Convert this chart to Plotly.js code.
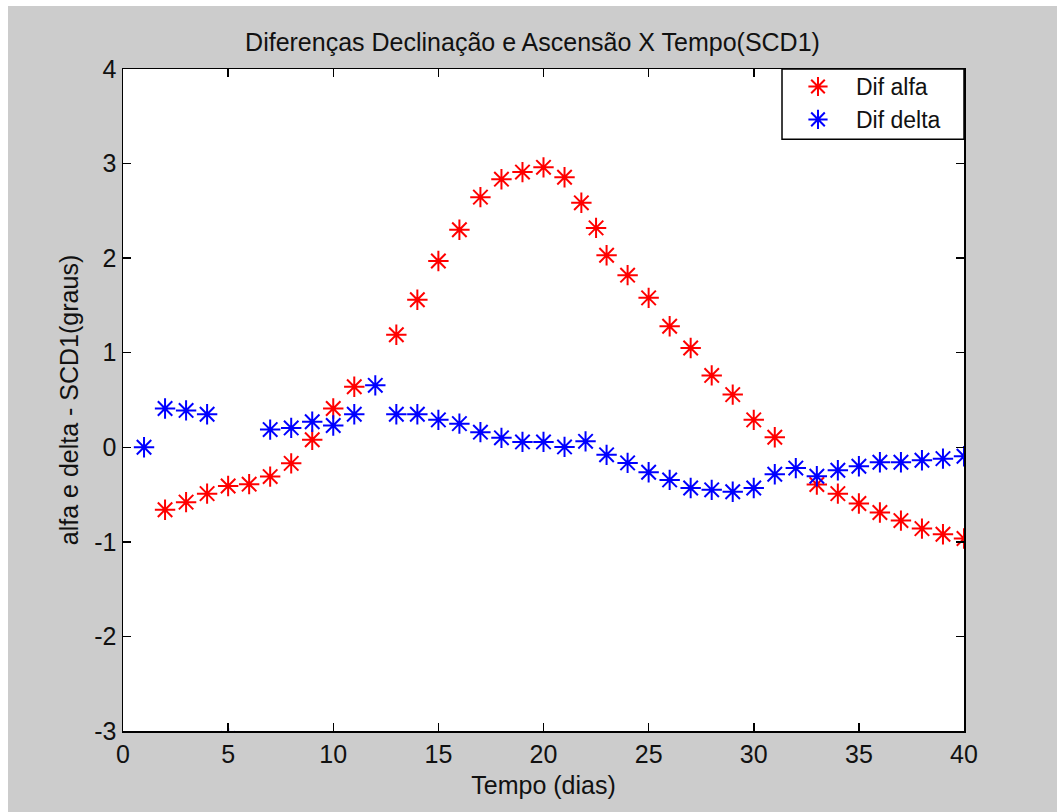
<!DOCTYPE html>
<html>
<head>
<meta charset="utf-8">
<script src="https://cdn.plot.ly/plotly-3.0.1.min.js"></script>
<style>
  html, body { margin: 0; padding: 0; background: #ffffff; }
  #chart { position: absolute; left: 8px; top: 6px; width: 1049px; height: 806px; }
</style>
</head>
<body>
<div id="chart"></div>
<script>
const alfaDias = [2,3,4,5,6,7,8,9,10,11,13,14,15,16,17,18,19,20,21,21.8,22.5,23,24,25,26,27,28,29,30,31,33,34,35,36,37,38,39,40];
const alfaDif  = [-0.66,-0.58,-0.49,-0.41,-0.39,-0.31,-0.17,0.08,0.41,0.64,1.19,1.56,1.97,2.30,2.645,2.835,2.91,2.96,2.856,2.585,2.32,2.03,1.82,1.58,1.28,1.05,0.76,0.557,0.29,0.106,-0.394,-0.49,-0.595,-0.69,-0.775,-0.86,-0.92,-0.965];
const deltaDias = [1,2,3,4,5,7,8,9,10,11,12,13,14,15,16,17,18,19,20,21,22,23,24,25,26,27,28,29,30,31,32,33,34,35,36,37,38,39,40];
const deltaDif  = [0.0,0.41,0.39,0.35,-3.08,0.187,0.205,0.27,0.23,0.35,0.655,0.35,0.35,0.29,0.25,0.16,0.10,0.057,0.057,0.004,0.063,-0.08,-0.165,-0.264,-0.345,-0.43,-0.45,-0.47,-0.43,-0.285,-0.22,-0.306,-0.243,-0.2,-0.158,-0.158,-0.137,-0.12,-0.095];
const xTicks = [0,5,10,15,20,25,30,35,40];
const yTicks = [-3,-2,-1,0,1,2,3,4];

const FONT = 'Liberation Sans, Arial, sans-serif';
const markerStyle = (c) => ({ symbol: 'asterisk-open', size: 17, color: c, line: { color: c, width: 2 } });

const traces = [
  { x: alfaDias, y: alfaDif, name: 'Dif alfa', type: 'scatter', mode: 'markers', marker: markerStyle('#ff0000'), cliponaxis: true },
  { x: deltaDias, y: deltaDif, name: 'Dif delta', type: 'scatter', mode: 'markers', marker: markerStyle('#0000ff'), cliponaxis: true }
];

const axisCommon = {
  showgrid: false, zeroline: false, showline: true, linecolor: '#000', linewidth: 1.5,
  mirror: 'ticks', ticks: 'inside', ticklen: 8, tickwidth: 1.5, tickcolor: '#000',
  tickfont: { family: FONT, size: 25, color: '#111' }, fixedrange: true
};

const layout = {
  width: 1049, height: 806,
  paper_bgcolor: '#cccccc', plot_bgcolor: '#ffffff',
  margin: { l: 115, r: 93, t: 63, b: 81 },
  showlegend: true,
  title: { text: 'Diferenças Declinação e Ascensão X Tempo(SCD1)', font: { family: FONT, size: 25, color: '#111' }, x: 0.5, xanchor: 'center', y: 0.955, yanchor: 'middle' },
  xaxis: Object.assign({}, axisCommon, { range: [0, 40], tickvals: xTicks, ticktext: xTicks.map(String),
    title: { text: 'Tempo (dias)', font: { family: FONT, size: 25, color: '#111' }, standoff: 10 } }),
  yaxis: Object.assign({}, axisCommon, { range: [-3, 4], tickvals: yTicks, ticktext: yTicks.map(String),
    title: { text: 'alfa e delta - SCD1(graus)', font: { family: FONT, size: 25, color: '#111' }, standoff: 8 } }),
  shapes: [
    { type: 'rect', xref: 'paper', yref: 'paper', x0: 0.7836, x1: 1, y0: 0.894, y1: 1,
      fillcolor: '#ffffff', line: { color: '#000', width: 1.5 }, layer: 'above' }
  ],
  legend: { x: 0.7812, xanchor: 'left', y: 1.006, yanchor: 'top', bgcolor: 'rgba(0,0,0,0)', borderwidth: 0,
    font: { family: FONT, size: 23, color: '#111' }, itemwidth: 66, tracegroupgap: 0 }
};

Plotly.newPlot('chart', traces, layout, { displayModeBar: false, staticPlot: true });
</script>
</body>
</html>
